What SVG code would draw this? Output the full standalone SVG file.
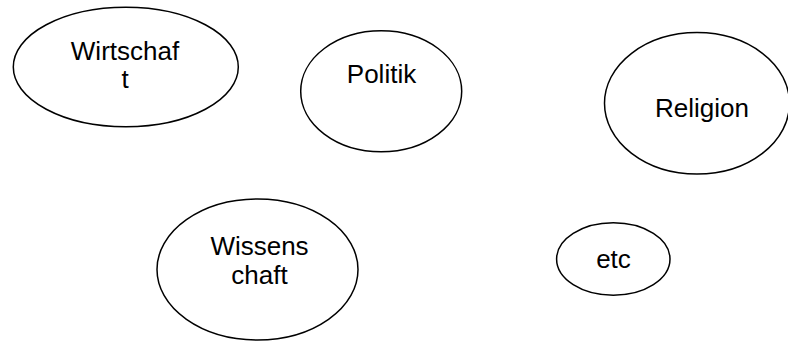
<svg xmlns="http://www.w3.org/2000/svg" width="788" height="341" viewBox="0 0 788 341">
<style>
.n{fill:#fff;stroke:#000;stroke-width:1.5}
.t{font-family:"Liberation Sans",Arial,sans-serif;font-size:26px;fill:#000;text-anchor:middle}
</style>
<rect width="788" height="341" fill="#fff"/>
<g id="connectors"></g>
<g id="wirtschaft"><ellipse class="n" cx="125.8" cy="67" rx="112.5" ry="59.7"/><text class="t" x="125" y="59.5">Wirtschaf</text><text class="t" x="125" y="87.5">t</text></g>
<g id="politik"><ellipse class="n" cx="381.2" cy="91.3" rx="80.5" ry="60.5"/><text class="t" x="381.5" y="83">Politik</text></g>
<g id="religion"><ellipse class="n" cx="697" cy="103.3" rx="92.5" ry="70.7"/><text class="t" x="702" y="116.5">Religion</text></g>
<g id="wissenschaft"><ellipse class="n" cx="257.5" cy="269.5" rx="100.5" ry="70.5"/><text class="t" x="259.5" y="254.5">Wissens</text><text class="t" x="259.5" y="283.5">chaft</text></g>
<g id="etc"><ellipse class="n" cx="613.3" cy="259" rx="56.7" ry="36.2"/><text class="t" x="613.5" y="267.5">etc</text></g>
</svg>
